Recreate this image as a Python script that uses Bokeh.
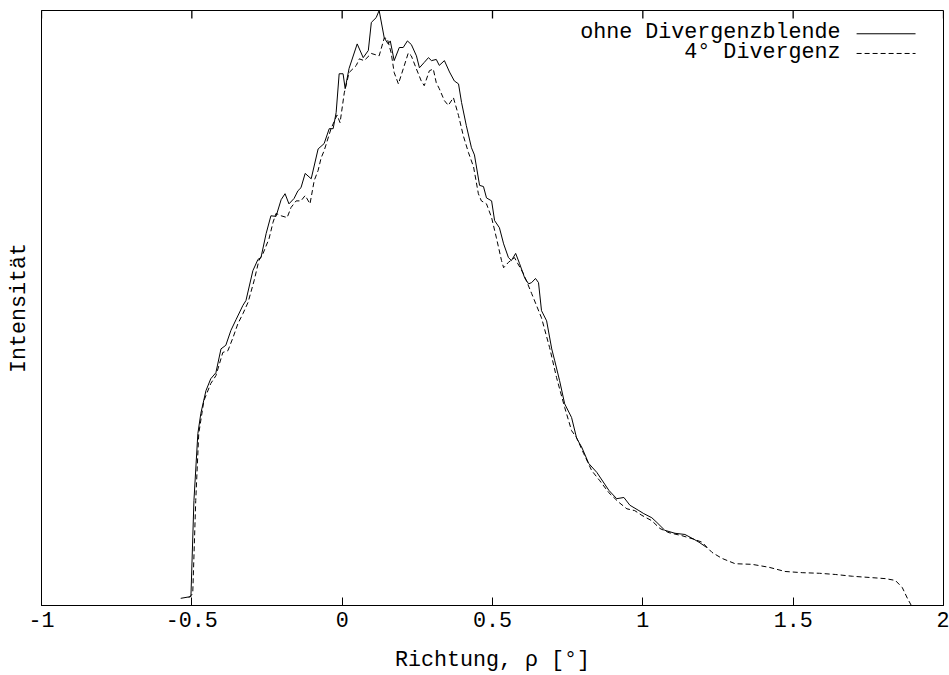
from bokeh.plotting import figure
from bokeh.models import Range1d, FixedTicker, Label
from bokeh.embed import file_html
from bokeh.resources import INLINE

# --- data (intensity in arbitrary units) ---
solid_x = [-0.537, -0.503, -0.493, -0.480, -0.470, -0.453, -0.437, -0.420, -0.403, -0.387,
           -0.370, -0.353, -0.330, -0.320, -0.297, -0.280, -0.270, -0.253, -0.237, -0.220,
           -0.203, -0.190, -0.177, -0.160, -0.147, -0.137, -0.123, -0.103, -0.080, -0.060,
           -0.043, -0.030, -0.020, -0.010, 0.003, 0.010, 0.023, 0.050, 0.070, 0.087,
           0.097, 0.113, 0.123, 0.140, 0.153, 0.160, 0.173, 0.190, 0.203, 0.217,
           0.230, 0.247, 0.257, 0.273, 0.287, 0.297, 0.313, 0.323, 0.340, 0.357,
           0.373, 0.387, 0.397, 0.413, 0.430, 0.440, 0.457, 0.470, 0.480, 0.497,
           0.507, 0.523, 0.537, 0.553, 0.563, 0.577, 0.590, 0.607, 0.620, 0.630,
           0.643, 0.653, 0.663, 0.680, 0.697, 0.707, 0.723, 0.740, 0.763, 0.780,
           0.797, 0.820, 0.847, 0.887, 0.913, 0.937, 0.957, 0.987, 1.003, 1.030,
           1.047, 1.073, 1.107, 1.140, 1.170, 1.187, 1.213]
solid_y = [1.2, 1.5, 17.6, 28.8, 32.2, 36.0, 38.0, 39.0, 43.0, 43.6,
           46.1, 47.9, 50.3, 51.1, 56.1, 58.0, 58.3, 62.3, 65.3, 65.2,
           68.0, 69.0, 67.3, 68.2, 69.5, 70.0, 72.4, 71.5, 76.5, 77.4,
           79.9, 79.9, 82.6, 89.1, 89.1, 86.6, 90.0, 94.1, 91.8, 93.0,
           97.7, 98.5, 99.7, 95.1, 94.1, 94.6, 91.3, 93.5, 93.5, 94.6,
           94.0, 92.1, 90.1, 91.0, 91.8, 91.3, 91.5, 90.5, 91.3, 89.4,
           87.9, 87.4, 84.3, 80.4, 76.7, 75.5, 70.4, 70.2, 68.3, 67.8,
           64.5, 63.3, 60.6, 58.3, 57.8, 59.0, 57.3, 54.9, 53.9, 54.1,
           54.8, 54.1, 49.4, 47.7, 43.0, 41.0, 37.7, 33.8, 31.5, 28.0,
           26.5, 23.8, 22.3, 19.3, 17.9, 18.1, 16.8, 15.9, 15.4, 14.7,
           13.9, 12.6, 12.1, 11.9, 11.1, 10.6, 9.7]

dash_x = [-0.510, -0.497, -0.487, -0.477, -0.460, -0.437, -0.420, -0.397, -0.380, -0.363,
          -0.347, -0.330, -0.313, -0.293, -0.277, -0.263, -0.243, -0.230, -0.220, -0.203,
          -0.183, -0.170, -0.153, -0.137, -0.123, -0.107, -0.093, -0.080, -0.070, -0.060,
          -0.037, -0.017, -0.007, 0.007, 0.023, 0.047, 0.057, 0.073, 0.097, 0.123,
          0.140, 0.150, 0.163, 0.173, 0.187, 0.203, 0.220, 0.230, 0.247, 0.263,
          0.273, 0.290, 0.303, 0.313, 0.323, 0.340, 0.353, 0.370, 0.387, 0.403,
          0.420, 0.437, 0.453, 0.463, 0.480, 0.497, 0.513, 0.530, 0.537, 0.553,
          0.573, 0.603, 0.630, 0.663, 0.690, 0.713, 0.740, 0.763, 0.780, 0.803,
          0.830, 0.857, 0.887, 0.920, 0.947, 0.973, 0.997, 1.030, 1.057, 1.087,
          1.130, 1.170, 1.197, 1.230, 1.263, 1.307, 1.363, 1.420, 1.473, 1.530,
          1.587, 1.640, 1.697, 1.753, 1.807, 1.840, 1.863, 1.880, 1.893, 1.930,
          1.997]
dash_y = [1.3, 2.0, 17.6, 28.8, 34.3, 37.2, 38.5, 42.4, 42.7, 44.9,
          47.2, 48.9, 50.8, 54.4, 57.8, 59.0, 61.5, 64.2, 65.7, 65.3,
          65.0, 66.7, 67.8, 67.8, 68.7, 67.3, 71.2, 72.9, 75.0, 76.2,
          79.9, 82.2, 80.9, 85.9, 89.3, 90.5, 91.6, 91.3, 92.5, 92.1,
          95.1, 95.0, 92.6, 89.3, 87.4, 89.9, 92.6, 92.1, 89.9, 87.9,
          87.1, 89.6, 89.9, 87.6, 86.6, 84.6, 83.8, 85.1, 82.1, 78.7,
          75.9, 73.5, 69.0, 67.8, 67.3, 65.0, 61.6, 57.8, 56.6, 57.5,
          58.3, 55.6, 52.3, 48.2, 43.2, 38.2, 33.2, 29.3, 28.1, 25.5,
          22.6, 20.9, 18.9, 17.3, 16.2, 15.9, 15.1, 14.2, 12.9, 12.2,
          11.7, 11.1, 10.6, 8.9, 7.9, 7.0, 6.9, 6.4, 5.7, 5.5,
          5.4, 5.2, 4.9, 4.7, 4.5, 4.2, 3.0, 1.2, 0.0, 0.0,
          0.0]

x_ticks = [-1, -0.5, 0, 0.5, 1, 1.5, 2]
x_tick_labels = ["-1", "-0.5", "0", "0.5", "1", "1.5", "2"]
series_names = ["ohne Divergenzblende", "4° Divergenz"]
x_title = "Richtung, ρ [°]"
y_title = "Intensität"

FONT = "Liberation Mono"
FS = "21.7px"
Y_MAX = 99.7
TOP_TICK = Y_MAX * (1 - 8 / 596)   # 8 px inward tick at the top border

p = figure(width=949, height=675, x_range=Range1d(-1, 2), y_range=Range1d(0, Y_MAX),
           output_backend="svg", toolbar_location=None,
           min_border_left=41, min_border_right=6, min_border_top=10, min_border_bottom=69)
p.grid.visible = False
p.outline_line_color = "black"
p.outline_line_width = 1
p.background_fill_color = "white"
p.border_fill_color = "white"

p.line(solid_x, solid_y, line_color="black", line_width=1)
p.line(dash_x, dash_y, line_color="black", line_width=1, line_dash="5 3")

xa = p.xaxis[0]
xa.ticker = FixedTicker(ticks=x_ticks)
xa.major_label_overrides = dict(zip(x_ticks, x_tick_labels))
xa.major_tick_in = 8
xa.major_tick_out = 0
xa.minor_tick_line_color = None
xa.axis_line_color = "black"
xa.major_tick_line_color = "black"
xa.major_label_text_font = FONT
xa.major_label_text_font_size = FS
xa.major_label_text_color = "black"
xa.major_label_standoff = 6
xa.axis_label = x_title
xa.axis_label_text_font = FONT
xa.axis_label_text_font_size = FS
xa.axis_label_text_font_style = "normal"
xa.axis_label_text_color = "black"
xa.axis_label_standoff = 18

ya = p.yaxis[0]
ya.ticker = FixedTicker(ticks=[])
ya.major_tick_line_color = None
ya.minor_tick_line_color = None
ya.axis_line_color = "black"
ya.axis_label = y_title
ya.axis_label_text_font = FONT
ya.axis_label_text_font_size = FS
ya.axis_label_text_font_style = "normal"
ya.axis_label_text_color = "black"
ya.axis_label_standoff = 10

# mirrored inward ticks on the top border
p.segment(x0=x_ticks, y0=[Y_MAX] * len(x_ticks), x1=x_ticks, y1=[TOP_TICK] * len(x_ticks),
          line_color="black", line_width=1.3)

# legend in gnuplot style: text right-aligned, sample line to the right
leg_text_x = 799      # screen px from frame left
leg_rows_y = [573, 553]  # screen px from frame bottom
for name, yy in zip(series_names, leg_rows_y):
    p.add_layout(Label(x=leg_text_x, y=yy, x_units="screen", y_units="screen", text=name,
                       text_align="right", text_baseline="middle", text_font=FONT,
                       text_font_size=FS, text_color="black"))
leg_x = [1.711, 1.907]
p.line(leg_x, [95.8, 95.8], line_color="black", line_width=1)
p.line(leg_x, [92.5, 92.5], line_color="black", line_width=1, line_dash="5 3")

open("out.html", "w").write(file_html(p, INLINE))
